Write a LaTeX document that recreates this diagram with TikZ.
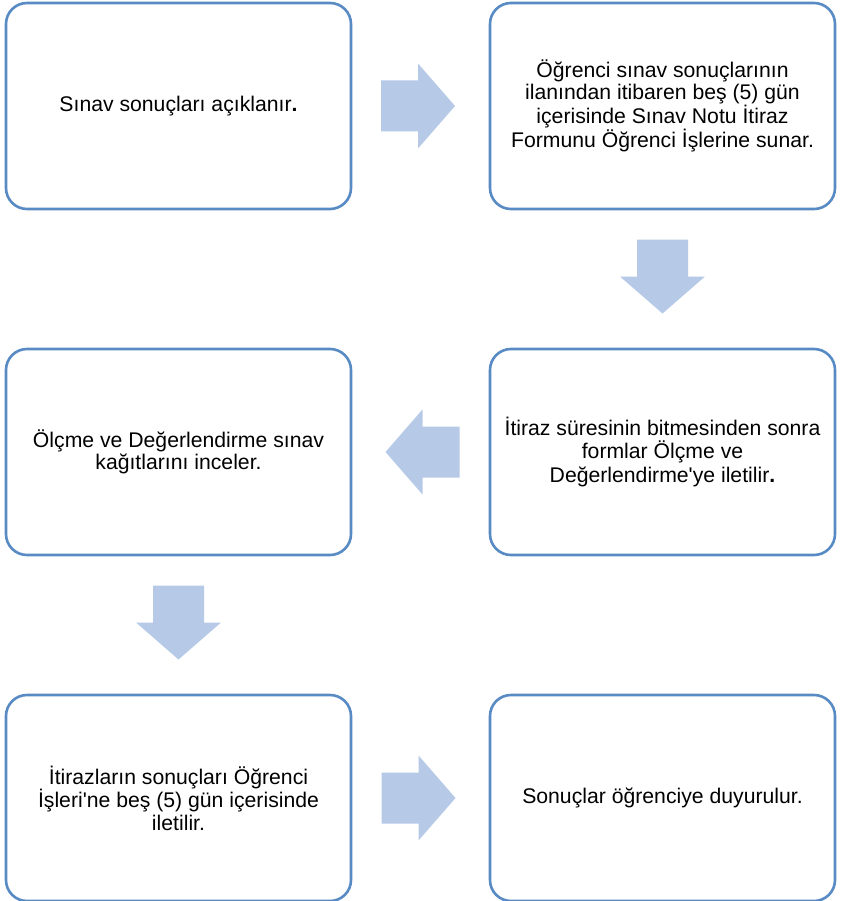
\documentclass[tikz,border=0pt]{standalone}
\usepackage{fontspec}
\setmainfont{Liberation Sans}[Ligatures=TeXOff]
\usetikzlibrary{calc}
\definecolor{boxline}{RGB}{88,138,196}
\definecolor{arrowfill}{RGB}{182,202,231}
\tikzset{
  x=1pt, y=-1pt,
  stepbox/.style={draw=boxline, line width=2.6pt, rounded corners=21pt, fill=white,
    minimum width=345pt, minimum height=206pt, align=center, inner sep=4pt,
    font=\fontsize{21.2pt}{22.3pt}\selectfont, text=black},
  rarrow/.pic={\fill[arrowfill] (-37,-25.5) -- (0,-25.5) -- (0,-42.5) -- (37,0) -- (0,42.5) -- (0,25.5) -- (-37,25.5) -- cycle;},
  larrow/.pic={\fill[arrowfill] (37,-25.5) -- (0,-25.5) -- (0,-42.5) -- (-37,0) -- (0,42.5) -- (0,25.5) -- (37,25.5) -- cycle;},
  darrow/.pic={\fill[arrowfill] (-25.5,-37) -- (-25.5,0) -- (-42.5,0) -- (0,37) -- (42.5,0) -- (25.5,0) -- (25.5,-37) -- cycle;}
}
\begin{document}
\begin{tikzpicture}
\useasboundingbox (0,0) rectangle (841,901);
\fill[white] (0,0) rectangle (841,901);
\begin{scope}
\clip (0,0) rectangle (841,901);
\node[stepbox] (A) at (178.5,106) {Sınav sonuçları açıklanır\textbf{.}};
\node[stepbox] (B) at (662.5,106) {Öğrenci sınav sonuçlarının\\ilanından itibaren beş (5) gün\\içerisinde Sınav Notu İtiraz\\Formunu Öğrenci İşlerine sunar.};
\node[stepbox] (C) at (662.5,452) {İtiraz süresinin bitmesinden sonra\\formlar Ölçme ve\\[2pt]Değerlendirme'ye iletilir\textbf{.}};
\node[stepbox] (D) at (178.5,452) {Ölçme ve Değerlendirme sınav\\kağıtlarını inceler.};
\node[stepbox] (E) at (178.5,798) {İtirazların sonuçları Öğrenci\\İşleri'ne beş (5) gün içerisinde\\iletilir.};
\node[stepbox] (F) at (662.5,798) {Sonuçlar öğrenciye duyurulur.};
\end{scope}
\coordinate (m1) at ($(A.east)!0.5!(B.west)+(-2.5,0)$);
\coordinate (m2) at ($(B.south)!0.5!(C.north)+(0,-2.5)$);
\coordinate (m3) at ($(C.west)!0.5!(D.east)+(2,0)$);
\coordinate (m4) at ($(D.south)!0.5!(E.north)+(0,-2.5)$);
\coordinate (m5) at ($(E.east)!0.5!(F.west)+(-2,0)$);
\pic at (m1) {rarrow};
\pic at (m2) {darrow};
\pic at (m3) {larrow};
\pic at (m4) {darrow};
\pic at (m5) {rarrow};
\end{tikzpicture}
\end{document}
